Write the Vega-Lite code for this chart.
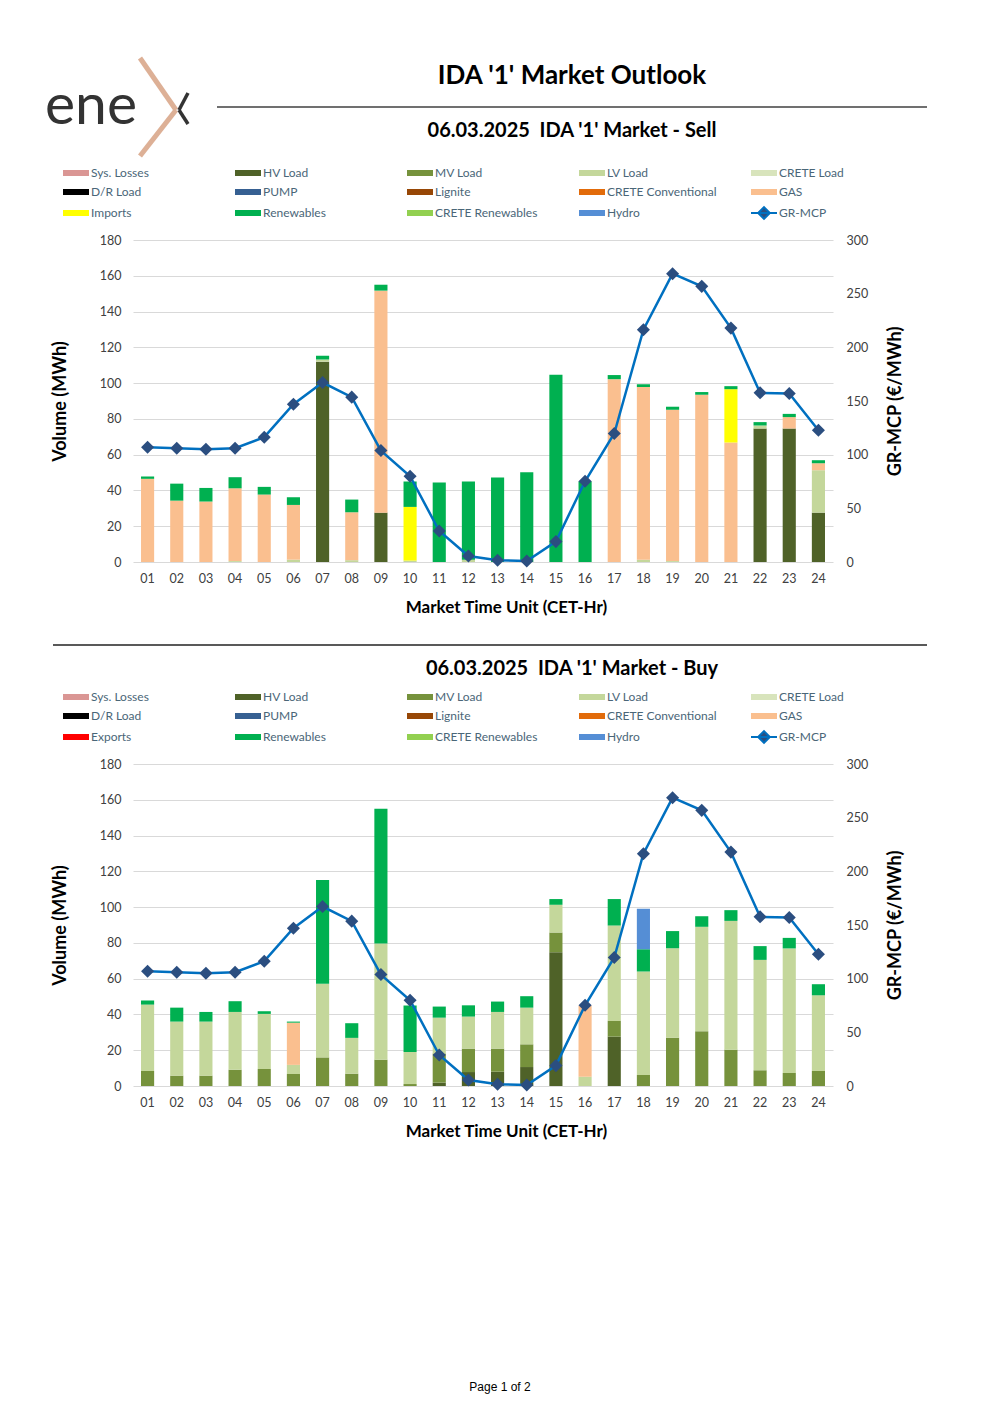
{
  "$schema": "https://vega.github.io/schema/vega-lite/v6.json",
  "background": "white",
  "padding": {"left": 45, "top": 40, "right": 0, "bottom": 0},
  "config": {"font": "Lato", "view": {"stroke": null}},
  "spacing": 0,
  "bounds": "flush",
  "resolve": {"scale": {"color": "independent"}, "legend": {"color": "independent"}},
  "datasets": {
    "series": [
      {"s": "Sys. Losses", "o": 1}, {"s": "HV Load", "o": 2}, {"s": "MV Load", "o": 3}, {"s": "LV Load", "o": 4},
      {"s": "CRETE Load", "o": 5}, {"s": "D/R Load", "o": 6}, {"s": "PUMP", "o": 7}, {"s": "Lignite", "o": 8},
      {"s": "CRETE Conventional", "o": 9}, {"s": "GAS", "o": 10}, {"s": "Imports", "o": 11}, {"s": "Exports", "o": 11},
      {"s": "Renewables", "o": 12}, {"s": "CRETE Renewables", "o": 13}, {"s": "Hydro", "o": 14}
    ],
    "price": [
      {"h": "01", "p": 106.9}, {"h": "02", "p": 106.0}, {"h": "03", "p": 105.1}, {"h": "04", "p": 106.0},
      {"h": "05", "p": 116.3}, {"h": "06", "p": 147.0}, {"h": "07", "p": 167.2}, {"h": "08", "p": 153.6},
      {"h": "09", "p": 103.8}, {"h": "10", "p": 79.9}, {"h": "11", "p": 28.9}, {"h": "12", "p": 5.6},
      {"h": "13", "p": 1.6}, {"h": "14", "p": 0.9}, {"h": "15", "p": 19.0}, {"h": "16", "p": 75.2},
      {"h": "17", "p": 119.7}, {"h": "18", "p": 216.4}, {"h": "19", "p": 268.6}, {"h": "20", "p": 256.8},
      {"h": "21", "p": 217.9}, {"h": "22", "p": 157.6}, {"h": "23", "p": 157.0}, {"h": "24", "p": 122.8}
    ],
    "sell": [
      {"h": "01", "s": "GAS", "v": 46.5}, {"h": "01", "s": "Renewables", "v": 1.3},
      {"h": "02", "s": "GAS", "v": 34.3}, {"h": "02", "s": "Renewables", "v": 9.5},
      {"h": "03", "s": "GAS", "v": 33.8}, {"h": "03", "s": "Renewables", "v": 7.6},
      {"h": "04", "s": "LV Load", "v": 0.5}, {"h": "04", "s": "GAS", "v": 40.7}, {"h": "04", "s": "Renewables", "v": 6.2},
      {"h": "05", "s": "GAS", "v": 37.7}, {"h": "05", "s": "Renewables", "v": 4.3},
      {"h": "06", "s": "LV Load", "v": 1.3}, {"h": "06", "s": "GAS", "v": 30.6}, {"h": "06", "s": "Renewables", "v": 4.3},
      {"h": "07", "s": "HV Load", "v": 112.0}, {"h": "07", "s": "LV Load", "v": 1.2}, {"h": "07", "s": "Renewables", "v": 2.1},
      {"h": "08", "s": "LV Load", "v": 1.0}, {"h": "08", "s": "GAS", "v": 26.8}, {"h": "08", "s": "Renewables", "v": 7.1},
      {"h": "09", "s": "HV Load", "v": 27.6}, {"h": "09", "s": "GAS", "v": 124.1}, {"h": "09", "s": "Renewables", "v": 3.3},
      {"h": "10", "s": "LV Load", "v": 0.8}, {"h": "10", "s": "Imports", "v": 30.0}, {"h": "10", "s": "Renewables", "v": 14.2},
      {"h": "11", "s": "Renewables", "v": 44.4},
      {"h": "12", "s": "LV Load", "v": 1.3}, {"h": "12", "s": "Renewables", "v": 43.7},
      {"h": "13", "s": "Renewables", "v": 47.2},
      {"h": "14", "s": "Renewables", "v": 50.2},
      {"h": "15", "s": "Renewables", "v": 104.7},
      {"h": "16", "s": "Renewables", "v": 45.1},
      {"h": "17", "s": "GAS", "v": 102.2}, {"h": "17", "s": "Renewables", "v": 2.3},
      {"h": "18", "s": "LV Load", "v": 1.3}, {"h": "18", "s": "GAS", "v": 96.5}, {"h": "18", "s": "Renewables", "v": 1.5},
      {"h": "19", "s": "LV Load", "v": 0.5}, {"h": "19", "s": "GAS", "v": 84.6}, {"h": "19", "s": "Renewables", "v": 1.7},
      {"h": "20", "s": "GAS", "v": 93.5}, {"h": "20", "s": "Renewables", "v": 1.5},
      {"h": "21", "s": "GAS", "v": 66.8}, {"h": "21", "s": "Imports", "v": 29.8}, {"h": "21", "s": "Renewables", "v": 1.7},
      {"h": "22", "s": "HV Load", "v": 74.6}, {"h": "22", "s": "LV Load", "v": 1.7}, {"h": "22", "s": "Renewables", "v": 1.9},
      {"h": "23", "s": "HV Load", "v": 74.6}, {"h": "23", "s": "GAS", "v": 6.4}, {"h": "23", "s": "Renewables", "v": 1.8},
      {"h": "24", "s": "HV Load", "v": 27.6}, {"h": "24", "s": "LV Load", "v": 23.7}, {"h": "24", "s": "GAS", "v": 3.9}, {"h": "24", "s": "Renewables", "v": 1.7}
    ],
    "buy": [
      {"h": "01", "s": "MV Load", "v": 8.4}, {"h": "01", "s": "LV Load", "v": 37.1}, {"h": "01", "s": "Renewables", "v": 2.3},
      {"h": "02", "s": "MV Load", "v": 5.8}, {"h": "02", "s": "LV Load", "v": 30.2}, {"h": "02", "s": "Renewables", "v": 7.8},
      {"h": "03", "s": "MV Load", "v": 5.8}, {"h": "03", "s": "LV Load", "v": 30.2}, {"h": "03", "s": "Renewables", "v": 5.4},
      {"h": "04", "s": "MV Load", "v": 9.1}, {"h": "04", "s": "LV Load", "v": 32.3}, {"h": "04", "s": "Renewables", "v": 6.0},
      {"h": "05", "s": "MV Load", "v": 9.5}, {"h": "05", "s": "LV Load", "v": 30.8}, {"h": "05", "s": "Renewables", "v": 1.5},
      {"h": "06", "s": "MV Load", "v": 6.7}, {"h": "06", "s": "LV Load", "v": 5.1}, {"h": "06", "s": "GAS", "v": 23.6}, {"h": "06", "s": "Renewables", "v": 0.6},
      {"h": "07", "s": "MV Load", "v": 16.0}, {"h": "07", "s": "LV Load", "v": 41.1}, {"h": "07", "s": "Renewables", "v": 58.0},
      {"h": "08", "s": "MV Load", "v": 6.9}, {"h": "08", "s": "LV Load", "v": 20.0}, {"h": "08", "s": "Renewables", "v": 8.2},
      {"h": "09", "s": "MV Load", "v": 14.7}, {"h": "09", "s": "LV Load", "v": 64.9}, {"h": "09", "s": "Renewables", "v": 75.4},
      {"h": "10", "s": "MV Load", "v": 1.1}, {"h": "10", "s": "LV Load", "v": 17.9}, {"h": "10", "s": "Renewables", "v": 26.0},
      {"h": "11", "s": "HV Load", "v": 1.9}, {"h": "11", "s": "MV Load", "v": 16.3}, {"h": "11", "s": "LV Load", "v": 20.0}, {"h": "11", "s": "Renewables", "v": 6.2},
      {"h": "12", "s": "HV Load", "v": 7.8}, {"h": "12", "s": "MV Load", "v": 13.1}, {"h": "12", "s": "LV Load", "v": 17.9}, {"h": "12", "s": "Renewables", "v": 6.3},
      {"h": "13", "s": "HV Load", "v": 8.0}, {"h": "13", "s": "MV Load", "v": 12.9}, {"h": "13", "s": "LV Load", "v": 20.5}, {"h": "13", "s": "Renewables", "v": 5.8},
      {"h": "14", "s": "HV Load", "v": 10.6}, {"h": "14", "s": "MV Load", "v": 12.7}, {"h": "14", "s": "LV Load", "v": 20.5}, {"h": "14", "s": "Renewables", "v": 6.4},
      {"h": "15", "s": "HV Load", "v": 74.8}, {"h": "15", "s": "MV Load", "v": 11.0}, {"h": "15", "s": "LV Load", "v": 15.5}, {"h": "15", "s": "Renewables", "v": 3.2},
      {"h": "16", "s": "LV Load", "v": 5.2}, {"h": "16", "s": "GAS", "v": 39.8},
      {"h": "17", "s": "HV Load", "v": 27.6}, {"h": "17", "s": "MV Load", "v": 8.8}, {"h": "17", "s": "LV Load", "v": 53.3}, {"h": "17", "s": "Renewables", "v": 14.8},
      {"h": "18", "s": "MV Load", "v": 6.2}, {"h": "18", "s": "LV Load", "v": 57.8}, {"h": "18", "s": "Renewables", "v": 12.5}, {"h": "18", "s": "Hydro", "v": 22.6},
      {"h": "19", "s": "MV Load", "v": 27.0}, {"h": "19", "s": "LV Load", "v": 50.0}, {"h": "19", "s": "Renewables", "v": 9.6},
      {"h": "20", "s": "MV Load", "v": 30.6}, {"h": "20", "s": "LV Load", "v": 58.4}, {"h": "20", "s": "Renewables", "v": 5.9},
      {"h": "21", "s": "MV Load", "v": 20.3}, {"h": "21", "s": "LV Load", "v": 72.0}, {"h": "21", "s": "Renewables", "v": 6.0},
      {"h": "22", "s": "MV Load", "v": 8.8}, {"h": "22", "s": "LV Load", "v": 61.7}, {"h": "22", "s": "Renewables", "v": 7.7},
      {"h": "23", "s": "MV Load", "v": 7.3}, {"h": "23", "s": "LV Load", "v": 69.6}, {"h": "23", "s": "Renewables", "v": 5.9},
      {"h": "24", "s": "MV Load", "v": 8.4}, {"h": "24", "s": "LV Load", "v": 42.3}, {"h": "24", "s": "Renewables", "v": 6.2}
    ]
  },
  "vconcat": [
    {
      "width": 700, "height": 200,
      "data": {"values": [{}]},
      "layer": [
        {"mark": {"type": "text", "text": "ene", "align": "left", "baseline": "alphabetic", "fontSize": 57, "fontWeight": "normal", "color": "#333333"},
         "encoding": {"x": {"value": -88}, "y": {"value": 84}}},
        {"mark": {"type": "rule", "color": "#DDB096", "strokeWidth": 5}, "encoding": {"x": {"value": 7}, "y": {"value": 18}, "x2": {"value": 43}, "y2": {"value": 70}}},
        {"mark": {"type": "rule", "color": "#DDB096", "strokeWidth": 5}, "encoding": {"x": {"value": 43}, "y": {"value": 70}, "x2": {"value": 7}, "y2": {"value": 116}}},
        {"mark": {"type": "rule", "color": "#333333", "strokeWidth": 3.5}, "encoding": {"x": {"value": 55}, "y": {"value": 53}, "x2": {"value": 46}, "y2": {"value": 70}}},
        {"mark": {"type": "rule", "color": "#333333", "strokeWidth": 3.5}, "encoding": {"x": {"value": 46}, "y": {"value": 70}, "x2": {"value": 55}, "y2": {"value": 84}}},
        {"mark": {"type": "text", "text": "IDA '1' Market Outlook", "align": "center", "baseline": "middle", "fontSize": 26, "fontWeight": "bold", "color": "#000000"},
         "encoding": {"x": {"value": 439}, "y": {"value": 36}}},
        {"mark": {"type": "rule", "color": "#404040", "strokeWidth": 1.3}, "encoding": {"x": {"value": 84}, "x2": {"value": 794}, "y": {"value": 67}}},
        {"mark": {"type": "text", "text": "06.03.2025\u00a0 IDA '1' Market - Sell", "align": "center", "baseline": "middle", "fontSize": 20, "fontWeight": "bold", "color": "#000000"},
         "encoding": {"x": {"value": 439}, "y": {"value": 91}}}
      ]
    },
    {
      "width": 700, "height": 322,
      "encoding": {
        "x": {"field": "h", "type": "ordinal", "scale": {"paddingInner": 0.55, "paddingOuter": 0.275},
              "axis": {"title": "Market Time Unit (CET-Hr)", "labelAngle": 0, "domain": false, "ticks": false, "tickSize": 0, "labelPadding": 10,
                       "labelFontSize": 12.5, "labelColor": "#404040", "titleFontSize": 17, "titleFontWeight": "bold", "titleColor": "#000000",
                       "titleX": 373, "titleY": 45, "titleBaseline": "middle"}}
      },
      "layer": [
        {
          "data": {"name": "sell"},
          "transform": [{"lookup": "s", "from": {"data": {"name": "series"}, "key": "s", "fields": ["o"]}}],
          "mark": {"type": "bar"},
          "encoding": {
            "y": {"field": "v", "type": "quantitative", "stack": "zero", "scale": {"domain": [0, 180]},
                  "axis": {"title": "Volume (MWh)", "values": [0, 20, 40, 60, 80, 100, 120, 140, 160, 180], "grid": true, "gridColor": "#D9D9D9", "gridWidth": 1.2,
                           "domain": false, "ticks": false, "tickSize": 0, "labelPadding": 12, "labelFontSize": 12.5, "labelColor": "#404040",
                           "titleFontSize": 18, "titleFontWeight": "bold", "titleColor": "#000000", "titleX": -73, "titleY": 161, "titleBaseline": "middle"}},
            "color": {"field": "s", "type": "nominal",
                      "scale": {"domain": ["Sys. Losses", "HV Load", "MV Load", "LV Load", "CRETE Load", "D/R Load", "PUMP", "Lignite", "CRETE Conventional", "GAS", "Imports", "Renewables", "CRETE Renewables", "Hydro", "GR-MCP"],
                                "range": ["#DA9694", "#4F6228", "#76923C", "#C4D79B", "#D8E4BC", "#000000", "#366092", "#974706", "#E26B0A", "#FABF8F", "#FFFF00", "#00B050", "#92D050", "#558ED5", "#2B4E80"]},
                      "legend": {"orient": "none", "legendX": -63, "legendY": -75, "direction": "horizontal", "columns": 5, "gridAlign": "all", "columnPadding": 30, "rowPadding": 1,
                                 "symbolType": "M-1,-0.23H1V0.23H-1Z", "symbolSize": 676, "labelFontSize": 12, "labelColor": "#4A6678", "labelOffset": 9,
                                 "title": null, "padding": 0,
                                 "encode": {"symbols": {"update": {
                                   "shape": {"signal": "datum.value === 'GR-MCP' ? 'M-1,0H1M-0.45,0L0,-0.45L0.45,0L0,0.45Z' : 'M-1,-0.23H1V0.23H-1Z'"},
                                   "stroke": {"signal": "datum.value === 'GR-MCP' ? '#0070C0' : 'transparent'"},
                                   "strokeWidth": {"signal": "datum.value === 'GR-MCP' ? 2 : 0"}}}}}},
            "order": {"field": "o", "type": "quantitative"}
          }
        },
        {
          "data": {"name": "price"},
          "encoding": {
            "y": {"field": "p", "type": "quantitative", "scale": {"domain": [0, 300]},
                  "axis": {"orient": "right", "title": "GR-MCP (€/MWh)", "values": [0, 50, 100, 150, 200, 250, 300], "grid": false, "domain": false, "ticks": false, "tickSize": 0,
                           "labelPadding": 13, "labelFontSize": 12.5, "labelColor": "#404040", "titleFontSize": 18, "titleFontWeight": "bold", "titleColor": "#000000",
                           "titleAngle": -90, "titleX": 62, "titleY": 161, "titleBaseline": "middle"}}
          },
          "layer": [
            {"mark": {"type": "line", "color": "#0070C0", "strokeWidth": 2.5}},
            {"mark": {"type": "point", "shape": "diamond", "filled": true, "color": "#2B4E80", "size": 170, "opacity": 1}}
          ]
        }
      ],
      "resolve": {"scale": {"y": "independent"}}
    },
    {
      "width": 700, "height": 202,
      "data": {"values": [{}]},
      "layer": [
        {"mark": {"type": "rule", "color": "#595959", "strokeWidth": 2}, "encoding": {"x": {"value": -80}, "x2": {"value": 794}, "y": {"value": 83}}},
        {"mark": {"type": "text", "text": "06.03.2025\u00a0 IDA '1' Market - Buy", "align": "center", "baseline": "middle", "fontSize": 20, "fontWeight": "bold", "color": "#000000"},
         "encoding": {"x": {"value": 439}, "y": {"value": 107}}}
      ]
    },
    {
      "width": 700, "height": 322,
      "encoding": {
        "x": {"field": "h", "type": "ordinal", "scale": {"paddingInner": 0.55, "paddingOuter": 0.275},
              "axis": {"title": "Market Time Unit (CET-Hr)", "labelAngle": 0, "domain": false, "ticks": false, "tickSize": 0, "labelPadding": 10,
                       "labelFontSize": 12.5, "labelColor": "#404040", "titleFontSize": 17, "titleFontWeight": "bold", "titleColor": "#000000",
                       "titleX": 373, "titleY": 45, "titleBaseline": "middle"}}
      },
      "layer": [
        {
          "data": {"name": "buy"},
          "transform": [{"lookup": "s", "from": {"data": {"name": "series"}, "key": "s", "fields": ["o"]}}],
          "mark": {"type": "bar"},
          "encoding": {
            "y": {"field": "v", "type": "quantitative", "stack": "zero", "scale": {"domain": [0, 180]},
                  "axis": {"title": "Volume (MWh)", "values": [0, 20, 40, 60, 80, 100, 120, 140, 160, 180], "grid": true, "gridColor": "#D9D9D9", "gridWidth": 1.2,
                           "domain": false, "ticks": false, "tickSize": 0, "labelPadding": 12, "labelFontSize": 12.5, "labelColor": "#404040",
                           "titleFontSize": 18, "titleFontWeight": "bold", "titleColor": "#000000", "titleX": -73, "titleY": 161, "titleBaseline": "middle"}},
            "color": {"field": "s", "type": "nominal",
                      "scale": {"domain": ["Sys. Losses", "HV Load", "MV Load", "LV Load", "CRETE Load", "D/R Load", "PUMP", "Lignite", "CRETE Conventional", "GAS", "Exports", "Renewables", "CRETE Renewables", "Hydro", "GR-MCP"],
                                "range": ["#DA9694", "#4F6228", "#76923C", "#C4D79B", "#D8E4BC", "#000000", "#366092", "#974706", "#E26B0A", "#FABF8F", "#FF0000", "#00B050", "#92D050", "#558ED5", "#2B4E80"]},
                      "legend": {"orient": "none", "legendX": -63, "legendY": -75, "direction": "horizontal", "columns": 5, "gridAlign": "all", "columnPadding": 30, "rowPadding": 1,
                                 "symbolType": "M-1,-0.23H1V0.23H-1Z", "symbolSize": 676, "labelFontSize": 12, "labelColor": "#4A6678", "labelOffset": 9,
                                 "title": null, "padding": 0,
                                 "encode": {"symbols": {"update": {
                                   "shape": {"signal": "datum.value === 'GR-MCP' ? 'M-1,0H1M-0.45,0L0,-0.45L0.45,0L0,0.45Z' : 'M-1,-0.23H1V0.23H-1Z'"},
                                   "stroke": {"signal": "datum.value === 'GR-MCP' ? '#0070C0' : 'transparent'"},
                                   "strokeWidth": {"signal": "datum.value === 'GR-MCP' ? 2 : 0"}}}}}},
            "order": {"field": "o", "type": "quantitative"}
          }
        },
        {
          "data": {"name": "price"},
          "encoding": {
            "y": {"field": "p", "type": "quantitative", "scale": {"domain": [0, 300]},
                  "axis": {"orient": "right", "title": "GR-MCP (€/MWh)", "values": [0, 50, 100, 150, 200, 250, 300], "grid": false, "domain": false, "ticks": false, "tickSize": 0,
                           "labelPadding": 13, "labelFontSize": 12.5, "labelColor": "#404040", "titleFontSize": 18, "titleFontWeight": "bold", "titleColor": "#000000",
                           "titleAngle": -90, "titleX": 62, "titleY": 161, "titleBaseline": "middle"}}
          },
          "layer": [
            {"mark": {"type": "line", "color": "#0070C0", "strokeWidth": 2.5}},
            {"mark": {"type": "point", "shape": "diamond", "filled": true, "color": "#2B4E80", "size": 170, "opacity": 1}}
          ]
        }
      ],
      "resolve": {"scale": {"y": "independent"}}
    },
    {
      "width": 700, "height": 329,
      "data": {"values": [{}]},
      "mark": {"type": "text", "text": "Page 1 of 2", "align": "center", "baseline": "middle", "font": "Liberation Sans", "fontSize": 12, "color": "#000000"},
      "encoding": {"x": {"value": 367}, "y": {"value": 301}}
    }
  ]
}
